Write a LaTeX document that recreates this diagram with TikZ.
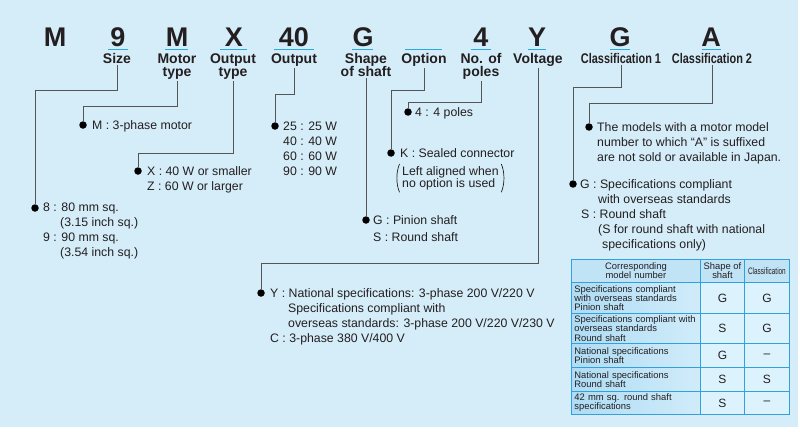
\documentclass[tikz,border=0pt]{standalone}
\usepackage{fontspec}
\usepackage{graphicx}
\setmainfont{Liberation Sans}
\newfontfamily\condfont[FakeStretch=0.78]{Liberation Sans}
\definecolor{bgblue}{RGB}{213,237,249}
\definecolor{ulblue}{RGB}{40,170,225}
\definecolor{conngray}{RGB}{85,85,85}
\definecolor{txt}{RGB}{35,31,32}
\definecolor{tline}{RGB}{50,160,220}
\definecolor{thead}{RGB}{192,227,246}
\definecolor{tleftA}{RGB}{175,220,244}
\definecolor{tleftB}{RGB}{208,236,250}
\definecolor{tcell}{RGB}{220,242,252}
\newcommand\bodyfont{\fontsize{12.3}{15}\selectfont}
\newcommand\tblfont{\fontsize{9.4}{9.2}\selectfont}
\begin{document}
\begin{tikzpicture}[x=1pt,y=-1pt,
  head/.style={font=\fontsize{27}{30}\selectfont\bfseries, text=txt, anchor=base, inner sep=0},
  lbl/.style={font=\fontsize{14}{13.5}\selectfont\bfseries, text=txt, anchor=base, align=center, inner sep=1.5},
  clbl/.style={font=\condfont\fontsize{14}{13.5}\selectfont\bfseries, text=txt, anchor=base, align=center, inner sep=1.5},
  desc/.style={font=\bodyfont, text=txt, anchor=base west, align=left, inner sep=0},
  dot/.style={circle, fill=black, inner sep=0, minimum size=7.5},
  conn/.style={draw=conngray, line width=0.9},
  paren/.style={draw=txt, line width=0.7},
  uline/.style={draw=ulblue, line width=1.6},
  cell/.style={draw=tline, line width=0.9, anchor=north west, inner sep=0, font=\tblfont, text=txt},
  lcell/.style={cell, left color=tleftA, right color=tleftB, minimum width=129, text width=123, inner xsep=3, align=left},
  vcell/.style={cell, fill=tcell, font=\fontsize{12}{12}\selectfont}
]
\useasboundingbox (0,0) rectangle (800,431);
\fill[white] (0,0) rectangle (800,431);
\fill[bgblue] (0,0) rectangle (798,427);

% heading letters
\node[head] (hM1) at (55,46) {M};
\node[head] (h9) at (118,46) {9};
\node[head] (hM2) at (177,46) {M};
\node[head] (hX) at (234,46) {X};
\node[head] (h40) at (294,46) {40};
\node[head] (hG1) at (363,46) {G};
\node[head] (h4) at (481,46) {4};
\node[head] (hY) at (537,46) {Y};
\node[head] (hG2) at (620,46) {G};
\node[head] (hA) at (711,46) {A};

% underlines
\draw[uline] (108,49.5) -- (128,49.5);
\draw[uline] (165,49.5) -- (188,49.5);
\draw[uline] (220,49.5) -- (247,49.5);
\draw[uline] (274,49.5) -- (314,49.5);
\draw[uline] (352,49.5) -- (373,49.5);
\draw[uline] (405,49.5) -- (442,49.5);
\draw[uline] (471,49.5) -- (491,49.5);
\draw[uline] (528,49.5) -- (546,49.5);
\draw[uline] (610,49.5) -- (630,49.5);
\draw[uline] (702,49.5) -- (721,49.5);

% labels (base anchor = baseline of last line)
\node[lbl] (lSize) at (117,63) {Size};
\node[lbl] (lMotor) at (177,76.5) {Motor\\type};
\node[lbl] (lOutType) at (233,76.5) {Output\\type};
\node[lbl] (lOutput) at (294,63) {Output};
\node[lbl] (lShape) at (366,76.5) {Shape\\of shaft};
\node[lbl] (lOption) at (424,63) {Option};
\node[lbl] (lPoles) at (481,76.5) {No. of\\poles};
\node[lbl] (lVolt) at (538,63) {Voltage};
\node[clbl] (lCls1) at (621,63) {Classification 1};
\node[clbl] (lCls2) at (712,63) {Classification 2};

% bullets
\node[dot] (bSize) at (35,208) {};
\node[dot] (bMotor) at (83,125) {};
\node[dot] (bOutType) at (138,171) {};
\node[dot] (bOutput) at (275,126) {};
\node[dot] (bShape) at (366,220) {};
\node[dot] (bOption) at (391,153) {};
\node[dot] (bPoles) at (408,112) {};
\node[dot] (bVolt) at (261,293) {};
\node[dot] (bCls1) at (573,184) {};
\node[dot] (bCls2) at (589,127) {};

% elbows
\coordinate (eSize) at (35,90);
\coordinate (eMotor) at (83,106);
\coordinate (eOutType) at (138,153);
\coordinate (eOutput) at (275,94);
\coordinate (eOption) at (391,90);
\coordinate (ePoles) at (408,102);
\coordinate (eVolt) at (261,263);
\coordinate (eCls1) at (573,87);
\coordinate (eCls2) at (589,103);

% connectors
\draw[conn] (lSize.south) |- (eSize) -- (bSize);
\draw[conn] (lMotor.south) |- (eMotor) -- (bMotor);
\draw[conn] (lOutType.south) |- (eOutType) -- (bOutType);
\draw[conn] (lOutput.south) |- (eOutput) -- (bOutput);
\draw[conn] (lShape.south) -- (bShape);
\draw[conn] (lOption.south) |- (eOption) -- (bOption);
\draw[conn] (lPoles.south) |- (ePoles) -- (bPoles);
\draw[conn] (lVolt.south) |- (eVolt) -- (bVolt);
\draw[conn] (lCls1.south) |- (eCls1) -- (bCls1);
\draw[conn] (lCls2.south) |- (eCls2) -- (bCls2);

% descriptions (base west = baseline of last line)
\node[desc] (dSize) at (43,256.5) {8 : 80 mm sq.\\\hspace*{17pt}(3.15 inch sq.)\\9 : 90 mm sq.\\\hspace*{17pt}(3.54 inch sq.)};
\node[desc] (dMotor) at (92,129.5) {M : 3-phase motor};
\node[desc] (dOutType) at (147,190.5) {X : 40 W or smaller\\Z : 60 W or larger};
\node[desc] (dOutput) at (283,175.5) {25 : 25 W\\40 : 40 W\\60 : 60 W\\90 : 90 W};
\node[desc, font=\fontsize{12.3}{16.5}\selectfont] (dShape) at (373,241) {G : Pinion shaft\\S : Round shaft};
\node[desc] (dOptK) at (400,157.5) {K : Sealed connector};
\node[desc, font=\fontsize{12.3}{12.4}\selectfont, anchor=base west] (dOptNote) at (402,187.5) {Left aligned when\\no option is used};
\draw[paren] ([xshift=-2.5pt,yshift=2pt]dOptNote.north west) .. controls ([xshift=-6pt,yshift=6pt]dOptNote.west) and ([xshift=-6pt,yshift=-6pt]dOptNote.west) .. ([xshift=-2.5pt,yshift=-2pt]dOptNote.south west);
\draw[paren] ([xshift=2.5pt,yshift=2pt]dOptNote.north east) .. controls ([xshift=6pt,yshift=6pt]dOptNote.east) and ([xshift=6pt,yshift=-6pt]dOptNote.east) .. ([xshift=2.5pt,yshift=-2pt]dOptNote.south east);
\node[desc] (dPoles) at (415,116.5) {4 : 4 poles};
\node[desc] (dCls2) at (597,161.5) {The models with a motor model\\number to which “A” is suffixed\\are not sold or available in Japan.};
\node[desc] (dCls1) at (580,248.5) {G : Specifications compliant\\\hspace*{18pt}with overseas standards\\\hspace*{1pt}S : Round shaft\\\hspace*{18pt}(S for round shaft with national\\\hspace*{22pt}specifications only)};
\node[desc] (dVolt) at (270,342.5) {Y : National specifications: 3-phase 200 V/220 V\\\hspace*{18pt}Specifications compliant with\\\hspace*{18pt}overseas standards: 3-phase 200 V/220 V/230 V\\C : 3-phase 380 V/400 V};

% table
\node[cell, fill=thead, minimum width=129, minimum height=23, text width=129, align=center] (t00) at (571,259) {Corresponding\\model number};
\node[cell, fill=thead, minimum width=44, minimum height=23, align=center] (t01) at (700,259) {Shape of\\shaft};
\node[cell, fill=thead, minimum width=45, minimum height=23] (t02) at (744,259) {\scalebox{0.68}[1]{Classification}};

\node[lcell, minimum height=31] (t10) at (571,282) {Specifications compliant\\with overseas standards\\Pinion shaft};
\node[vcell, minimum width=44, minimum height=31] (t11) at (700,282) {G};
\node[vcell, minimum width=45, minimum height=31] (t12) at (744,282) {G};

\node[lcell, minimum height=30] (t20) at (571,313) {Specifications compliant with\\overseas standards\\Round shaft};
\node[vcell, minimum width=44, minimum height=30] (t21) at (700,313) {S};
\node[vcell, minimum width=45, minimum height=30] (t22) at (744,313) {G};

\node[lcell, minimum height=24] (t30) at (571,343) {National specifications\\Pinion shaft};
\node[vcell, minimum width=44, minimum height=24] (t31) at (700,343) {G};
\node[vcell, minimum width=45, minimum height=24] (t32) at (744,343) {–};

\node[lcell, minimum height=24] (t40) at (571,367) {National specifications\\Round shaft};
\node[vcell, minimum width=44, minimum height=24] (t41) at (700,367) {S};
\node[vcell, minimum width=45, minimum height=24] (t42) at (744,367) {S};

\node[lcell, minimum height=23] (t50) at (571,391) {42 mm sq. round shaft\\specifications};
\node[vcell, minimum width=44, minimum height=23] (t51) at (700,391) {S};
\node[vcell, minimum width=45, minimum height=23] (t52) at (744,391) {–};
\end{tikzpicture}
\end{document}
